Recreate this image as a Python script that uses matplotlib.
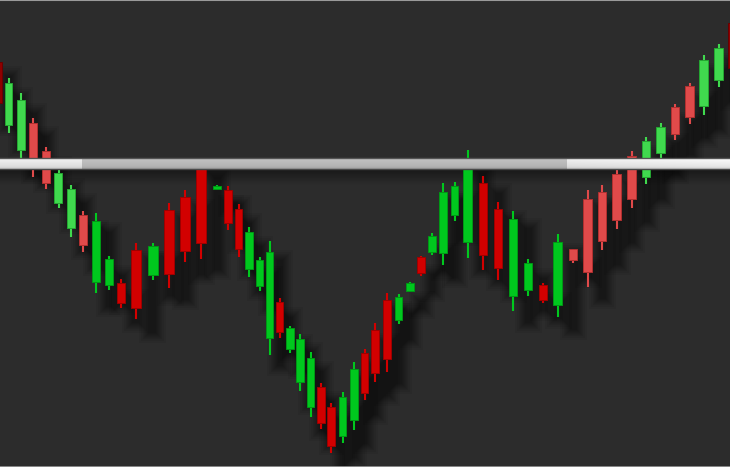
import numpy as np
import matplotlib
matplotlib.use('Agg')
import matplotlib.pyplot as plt

# candle positions (time units) and OHLC prices
t = np.array([-0.2, 0.85, 2.1, 3.3, 4.6, 5.85, 7.1, 8.3, 9.6, 10.85,
              12.1, 13.6, 15.3, 16.9, 18.5, 20.1, 21.7, 22.8, 23.85, 24.9,
              25.95, 26.95, 27.95, 29.0, 30.0, 31.05, 32.1, 33.1, 34.25, 35.4,
              36.45, 37.5, 38.7, 39.85, 41.0, 42.1, 43.2, 44.3, 45.45, 46.75,
              48.3, 49.8, 51.3, 52.8, 54.3, 55.75, 57.3, 58.75, 60.2, 61.65,
              63.15, 64.6, 66.05, 67.5, 68.95, 70.35, 71.85, 73.2])

opens = [102, 86.25, 80, 86.75, 79.75, 66.75, 60.5, 63.75, 47, 46.25,
         46.75, 55, 48.75, 65, 68.25, 75.5, 70.25, 70, 65.25, 50.25,
         46, 33, 42, 30.25, 22, 15.75, 20.75, 15.75, 8.5, 12.5,
         29.25, 35, 42.5, 37.5, 44.75, 53.25, 54.5, 54.25, 63.75, 57,
         71.75, 65.25, 43.5, 45, 46.25, 41.25, 55.25, 67.75, 69.5, 74,
         78.5, 73.25, 79.25, 90.75, 96, 91, 97.5, 111.75]
highs = [103.75, 98, 94.25, 88, 80.75, 75, 71.25, 64.75, 64.25, 53.5,
         47.75, 56.75, 56.75, 66.75, 70, 77.5, 71.25, 71, 66.5, 60.75,
         53.25, 57.25, 43, 36, 34, 29.5, 21.75, 16.75, 19.5, 27,
         30.25, 36.75, 44.25, 44, 47, 53.5, 59.25, 71.75, 72, 80,
         73.5, 67, 64.75, 52.75, 46.75, 59, 55.25, 70, 71.25, 75,
         79.75, 83.25, 86.75, 91.5, 96.75, 103.75, 106.5, 113.75]
lows = [90, 84.25, 78, 73.25, 70.25, 65.5, 58.25, 54.5, 44.25, 45,
        40.5, 37.75, 47.5, 45.5, 52, 52.75, 70, 60, 53.25, 48.25,
        44.75, 28.75, 33, 29.25, 19.75, 13.25, 10.25, 4.25, 6.75, 10,
        17.5, 22, 24.5, 36.5, 44.5, 48.5, 53.75, 51.25, 62.25, 53,
        50, 47.5, 39.75, 43.5, 41.75, 38.25, 51.75, 45.75, 55, 60.25,
        65.5, 71.5, 78, 82.5, 86.5, 88.75, 95.75, 98.75]
closes = [91.75, 96.75, 92.5, 77.5, 71.75, 74.25, 70.25, 56.25, 62.25, 52.75,
          41.75, 40.5, 56, 49, 54.75, 56.75, 71, 61.75, 55.25, 59.5,
          52.5, 54.5, 34.5, 35.5, 32.75, 28, 11.75, 6, 18.25, 25.25,
          19.25, 24.25, 27.75, 43.25, 46.75, 49.25, 58.5, 69.5, 71, 76.25,
          53.75, 50.5, 62.75, 51.75, 42.5, 57, 52.5, 49.5, 57.25, 62.5,
          67.75, 82.25, 85.75, 84, 88.25, 102.5, 105.5, 100.5]

# neckline level (band)
neck_low, neck_high = 75.25, 78

opens, highs, lows, closes = map(np.array, (opens, highs, lows, closes))

W, H = 730, 467
xmin, xmax = 0, 73
ymin, ymax = 0.75, 117.5
px_x = (xmax - xmin) / W   # data units per pixel
px_y = (ymax - ymin) / H

bg = '#2c2c2c'
fig = plt.figure(figsize=(W / 100, H / 100), dpi=100, facecolor=bg)
ax = fig.add_axes([0, 0, 1, 1], facecolor=bg)

up = closes >= opens
spacing = np.gradient(t)
width = (7.4 + (spacing / px_x - 10.5) * 0.3) * px_x
bottom = np.minimum(opens, closes)
height = np.maximum(np.abs(closes - opens), 1.5 * px_y)

# colour tone: brighter candles at both ends of the chart
lit = (t < 9) | (t > 56.5)
edge = (t < 0.3) | (t > 72.8)
colors, edges = [], []
for u, l, e in zip(up, lit, edge):
    if e:
        colors.append('#8e0000'); edges.append('#6a0000')
    elif u and l:
        colors.append('#40d94e'); edges.append('#25a832')
    elif u:
        colors.append('#00c81e'); edges.append('#009915')
    elif l:
        colors.append('#e04a4a'); edges.append('#b23030')
    else:
        colors.append('#d20000'); edges.append('#a00000')

# soft, blurred drop shadows
dx = spacing * 1.05
dy = 18 * px_y
rng = highs - lows
for grow in [9, 7, 5, 4, 3, 2, 1, 0, -1]:
    ax.bar(t + dx, height + rng * 0.2 + 2 * grow * px_y,
           bottom=bottom - dy - grow * px_y - rng * 0.1,
           width=np.maximum(width + 2 * grow * px_x, 2 * px_x),
           color='black', alpha=0.055, linewidth=0, zorder=1)

# shadow below neckline
sh = np.zeros((30, 2, 4))
sh[:, :, 3] = np.linspace(0.45, 0.0, 30)[:, None]
ax.imshow(sh, extent=(xmin, xmax, neck_low - 16 * px_y, neck_low),
          aspect='auto', interpolation='bilinear', zorder=1.5)

# candles
ax.vlines(t, lows, highs, colors=colors, linewidth=1.5, zorder=2)
ax.bar(t, height, bottom=bottom, width=width, color=colors,
       edgecolor=edges, linewidth=0.7, zorder=3)

# neckline with lighting gradient
xs = np.arange(W)
hprof = np.where((xs < 82) | (xs > 566), 0.95, 0.77)
hprof = hprof + np.where(xs > 566, (xs - 566) / (W - 566) * 0.04, 0)
vprof = np.array([0.92, 1.0, 0.98, 0.97, 0.96, 0.95, 0.94, 0.93, 0.92, 0.9, 0.86, 0.8])
band = np.clip(np.outer(vprof, hprof), 0, 1)
ax.imshow(np.dstack([band] * 3), extent=(xmin, xmax, neck_low, neck_high),
          aspect='auto', interpolation='bilinear', zorder=5)
ax.axhline(neck_high, color='#555555', linewidth=1.0, zorder=6)
ax.axhline(neck_low, color='#4a4a4a', linewidth=1.0, zorder=6)

# thin frame lines top and bottom
ax.axhline(ymax, color='#9a9a9a', linewidth=1.5, zorder=7)
ax.axhline(ymin + 0.5 * px_y, color='#9a9a9a', linewidth=1.2, zorder=7)

ax.set_xlim(xmin, xmax)
ax.set_ylim(ymin, ymax)
ax.axis('off')

fig.savefig('out.png', dpi=100, facecolor=bg)
